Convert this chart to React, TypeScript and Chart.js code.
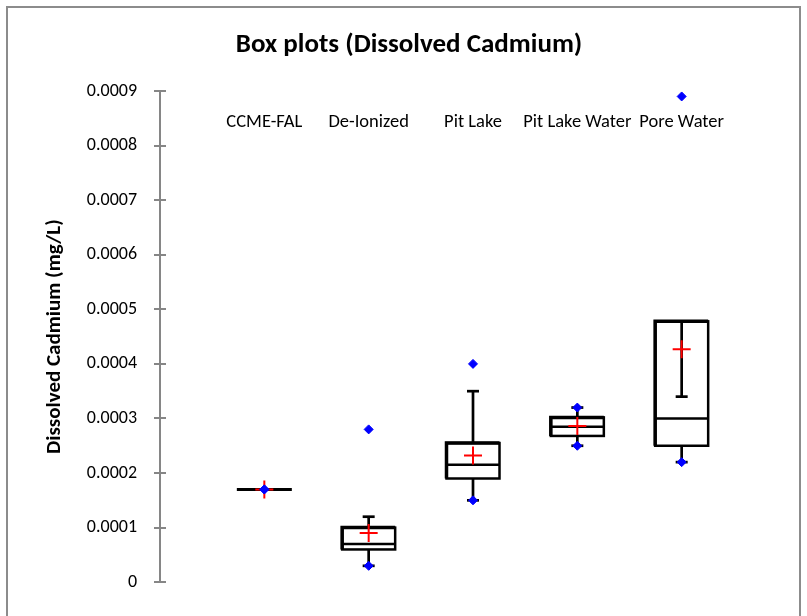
import React, { useEffect, useRef } from 'react';
import { Chart, registerables } from 'chart.js';

Chart.register(...registerables);

// ---- data ----
const categories = ['CCME-FAL', 'De-Ionized', 'Pit Lake', 'Pit Lake Water', 'Pore Water'];
const q1 = [0.00017, 0.00006, 0.00019, 0.000268, 0.00025];
const median = [0.00017, 0.00007, 0.000215, 0.000285, 0.0003];
const q3 = [0.00017, 0.0001, 0.000255, 0.000302, 0.000478];
const whiskerLow = [0.00017, 0.00003, 0.00015, 0.00025, 0.00022];
const whiskerHigh = [0.00017, 0.00012, 0.00035, 0.00032, 0.00034];
const means = [0.00017, 0.00009, 0.000232, 0.000286, 0.000427];
const minimum = [0.00017, 0.00003, 0.00015, 0.00025, 0.00022];
const maximum = [0.00017, 0.00028, 0.0004, 0.00032, 0.00089];
const labelLevel = 0.000842;
const yMin = 0;
const yMax = 0.0009;
const yStep = 0.0001;
const chartTitle = 'Box plots (Dissolved Cadmium)';
const yAxisTitle = 'Dissolved Cadmium (mg/L)';

const FONT = "Carlito, Lato, 'Open Sans', sans-serif";

export default function App() {
  const ref = useRef<HTMLCanvasElement | null>(null);

  useEffect(() => {
    const canvas = ref.current;
    if (!canvas) return;
    const xs = categories.map((_, i) => i + 1);

    const boxPlugin = {
      id: 'boxPlot',
      beforeDraw(chart: any) {
        const ctx = chart.ctx;
        ctx.save();
        ctx.fillStyle = '#ffffff';
        ctx.fillRect(0, 0, chart.width, chart.height);
        ctx.strokeStyle = '#8c8c8c';
        ctx.lineWidth = 2;
        ctx.beginPath();
        ctx.moveTo(7, chart.height + 5);
        ctx.lineTo(7, 7);
        ctx.lineTo(800, 7);
        ctx.lineTo(800, chart.height + 5);
        ctx.stroke();
        // chart title (centred on the chart frame)
        ctx.fillStyle = '#000000';
        ctx.font = `bold 27px ${FONT}`;
        ctx.textAlign = 'center';
        ctx.textBaseline = 'middle';
        ctx.fillText(chartTitle, 409, 45);
        ctx.restore();
      },
      beforeDatasetsDraw(chart: any) {
        const { ctx, scales } = chart;
        const x = scales.x;
        const y = scales.y;
        const half = 26.5;
        const cap = 6;
        ctx.save();
        ctx.strokeStyle = '#000000';
        ctx.lineCap = 'butt';
        xs.forEach((xv, i) => {
          const cx = x.getPixelForValue(xv);
          const yq1 = y.getPixelForValue(q1[i]);
          const yq3 = y.getPixelForValue(q3[i]);
          const ymed = y.getPixelForValue(median[i]);
          const ylo = y.getPixelForValue(whiskerLow[i]);
          const yhi = y.getPixelForValue(whiskerHigh[i]);
          // whiskers
          ctx.lineWidth = 2.7;
          if (whiskerHigh[i] !== q3[i]) {
            ctx.beginPath();
            ctx.moveTo(cx, yq3);
            ctx.lineTo(cx, yhi);
            ctx.stroke();
            ctx.beginPath();
            ctx.moveTo(cx - cap, yhi);
            ctx.lineTo(cx + cap, yhi);
            ctx.stroke();
          }
          if (whiskerLow[i] !== q1[i]) {
            ctx.beginPath();
            ctx.moveTo(cx, yq1);
            ctx.lineTo(cx, ylo);
            ctx.stroke();
            ctx.beginPath();
            ctx.moveTo(cx - cap, ylo);
            ctx.lineTo(cx + cap, ylo);
            ctx.stroke();
          }
          // box
          if (q1[i] === q3[i]) {
            ctx.lineWidth = 3;
            ctx.beginPath();
            ctx.moveTo(cx - half - 1, yq1);
            ctx.lineTo(cx + half + 1, yq1);
            ctx.stroke();
          } else {
            ctx.lineWidth = 2.5;
            ctx.strokeRect(cx - half, yq3, half * 2, yq1 - yq3);
            ctx.lineWidth = 3.5;
            ctx.beginPath();
            ctx.moveTo(cx - half, yq1);
            ctx.lineTo(cx - half, yq3);
            ctx.lineTo(cx + half, yq3);
            ctx.stroke();
            ctx.lineWidth = 2.5;
            ctx.beginPath();
            ctx.moveTo(cx - half, ymed);
            ctx.lineTo(cx + half, ymed);
            ctx.stroke();
          }
        });
        ctx.restore();
      },
      afterDraw(chart: any) {
        const { ctx, scales } = chart;
        const x = scales.x;
        const y = scales.y;
        ctx.save();
        // tick marks crossing the axis
        ctx.strokeStyle = '#868686';
        ctx.lineWidth = 2;
        const ax = chart.chartArea.left;
        y.ticks.forEach((t: any) => {
          const py = Math.round(y.getPixelForValue(t.value));
          ctx.beginPath();
          ctx.moveTo(ax - 6, py);
          ctx.lineTo(ax + 6, py);
          ctx.stroke();
        });
        // category labels
        ctx.fillStyle = '#000000';
        ctx.font = `18.5px ${FONT}`;
        ctx.textAlign = 'center';
        ctx.textBaseline = 'middle';
        const ly = y.getPixelForValue(labelLevel);
        categories.forEach((c, i) => {
          ctx.fillText(c, x.getPixelForValue(xs[i]), ly);
        });
        ctx.restore();
      },
    };

    const chart = new Chart(canvas, {
      type: 'scatter',
      data: {
        datasets: [
          {
            label: 'Minimum',
            data: xs.map((xv, i) => ({ x: xv, y: minimum[i] })),
            pointStyle: 'rectRot',
            pointRadius: 4.5,
            backgroundColor: '#0000ff',
            borderColor: '#0000ff',
            borderWidth: 1,
          },
          {
            label: 'Maximum',
            data: xs.map((xv, i) => ({ x: xv, y: maximum[i] })),
            pointStyle: 'rectRot',
            pointRadius: 4.5,
            backgroundColor: '#0000ff',
            borderColor: '#0000ff',
            borderWidth: 1,
          },
          {
            label: 'Mean',
            data: xs.map((xv, i) => ({ x: xv, y: means[i] })),
            pointStyle: 'cross',
            pointRadius: 9,
            backgroundColor: '#ff0000',
            borderColor: '#ff0000',
            borderWidth: 2,
          },
        ],
      },
      options: {
        responsive: false,
        animation: false,
        events: [],
        layout: { padding: { left: 0, right: 21, top: 91, bottom: 26 } },
        plugins: {
          legend: { display: false },
          tooltip: { enabled: false },
          title: { display: false },
        },
        scales: {
          x: {
            type: 'linear',
            display: false,
            min: 0,
            max: 6,
          },
          y: {
            type: 'linear',
            position: 'left',
            min: yMin,
            max: yMax,
            afterFit(scale: any) {
              scale.width = 160;
            },
            ticks: {
              stepSize: yStep,
              padding: 23,
              color: '#000000',
              font: { family: FONT, size: 18 },
              callback: (v: any) => (Number(v) === 0 ? '0' : Number(v).toFixed(4)),
            },
            grid: { display: false, drawTicks: false },
            border: { display: true, color: '#868686', width: 2 },
            title: {
              display: true,
              text: yAxisTitle,
              color: '#000000',
              font: { family: FONT, size: 21, weight: 'bold', lineHeight: 1.2 },
              padding: { top: 42.4, bottom: 0 },
            },
          },
        },
      },
      plugins: [boxPlugin],
    } as any);

    return () => chart.destroy();
  }, []);

  return (
    <div style={{ position: 'absolute', left: 0, top: 0, width: 807, height: 616, background: '#fff' }}>
      <canvas ref={ref} width={807} height={616} style={{ display: 'block', width: 807, height: 616 }} />
    </div>
  );
}
